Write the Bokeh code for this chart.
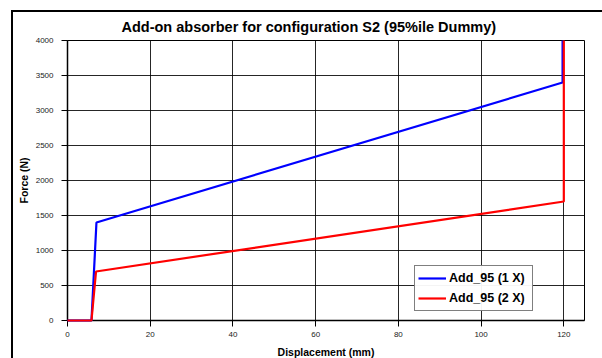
from bokeh.plotting import figure
from bokeh.models import Range1d, FixedTicker, Legend, LegendItem
from bokeh.embed import file_html
from bokeh.resources import INLINE

x_1x = [0, 5.8, 7.0, 119.7, 119.7]
f_1x = [0, 0, 1400, 3400, 4000]
x_2x = [0, 5.8, 6.9, 120, 120]
f_2x = [0, 0, 700, 1700, 4000]
x_ticks = [0, 20, 40, 60, 80, 100, 120]
y_ticks = [0, 500, 1000, 1500, 2000, 2500, 3000, 3500, 4000]

FONT = "Liberation Sans"

p = figure(width=591, height=348, output_backend="svg", toolbar_location=None,
           x_range=Range1d(0, 125), y_range=Range1d(0, 4000),
           min_border_left=54, min_border_right=20, min_border_top=28, min_border_bottom=37)
p.margin = (10, 0, 0, 11)
p.styles = {"border-left": "2px solid black", "border-top": "2px solid black"}

p.title.text = "Add-on absorber for configuration S2 (95%ile Dummy)"
p.title.align = "left"
p.title.offset = 54
p.title.text_font = FONT
p.title.text_font_size = "14.5px"
p.title.text_font_style = "bold"
p.title.text_color = "black"
p.title.vertical_align = "top"
p.title.standoff = 8

p.outline_line_color = "black"
p.outline_line_width = 1

for ax, ticks in ((p.xaxis[0], x_ticks), (p.yaxis[0], y_ticks)):
    ax.ticker = FixedTicker(ticks=ticks)
    ax.major_label_text_font = FONT
    ax.major_label_text_font_size = "8px"
    ax.major_label_text_color = "#222222"
    ax.axis_label_text_font = FONT
    ax.axis_label_text_font_size = "10.5px"
    ax.axis_label_text_font_style = "bold"
    ax.axis_label_text_color = "black"
    ax.axis_line_color = "black"
    ax.axis_line_width = 1.5
    ax.major_tick_line_color = "black"
    ax.major_tick_out = 6
    ax.major_tick_in = 0
    ax.minor_tick_line_color = None

p.xaxis.axis_label = "Displacement (mm)"
p.yaxis.axis_label = "Force (N)"
p.xaxis.major_label_standoff = 5
p.xaxis.axis_label_standoff = 6
p.yaxis.major_label_standoff = 8
p.yaxis.axis_label_standoff = 3

p.xgrid.ticker = FixedTicker(ticks=x_ticks)
p.ygrid.ticker = FixedTicker(ticks=y_ticks)
for g in (p.xgrid[0], p.ygrid[0]):
    g.grid_line_color = "black"
    g.grid_line_alpha = 0.85
    g.grid_line_width = 1

r1 = p.line(x_1x, f_1x, line_color="#0000ff", line_width=2.2)
r2 = p.line(x_2x, f_2x, line_color="#ff0000", line_width=2.2)
r1.level = "overlay"
r2.level = "overlay"

legend = Legend(items=[LegendItem(label="Add_95 (1 X)", renderers=[r1]),
                       LegendItem(label="Add_95 (2 X)", renderers=[r2])],
                location=(347, 9))
legend.label_text_font = FONT
legend.label_text_font_size = "12.5px"
legend.label_text_font_style = "bold"
legend.label_text_color = "black"
legend.border_line_color = "black"
legend.border_line_width = 1
legend.glyph_width = 28
legend.glyph_height = 18
legend.label_height = 18
legend.label_width = 80
legend.spacing = 2
legend.padding = 3
legend.margin = 0
legend.label_standoff = 3
p.add_layout(legend, "center")

open("out.html", "w").write(file_html(p, INLINE))
